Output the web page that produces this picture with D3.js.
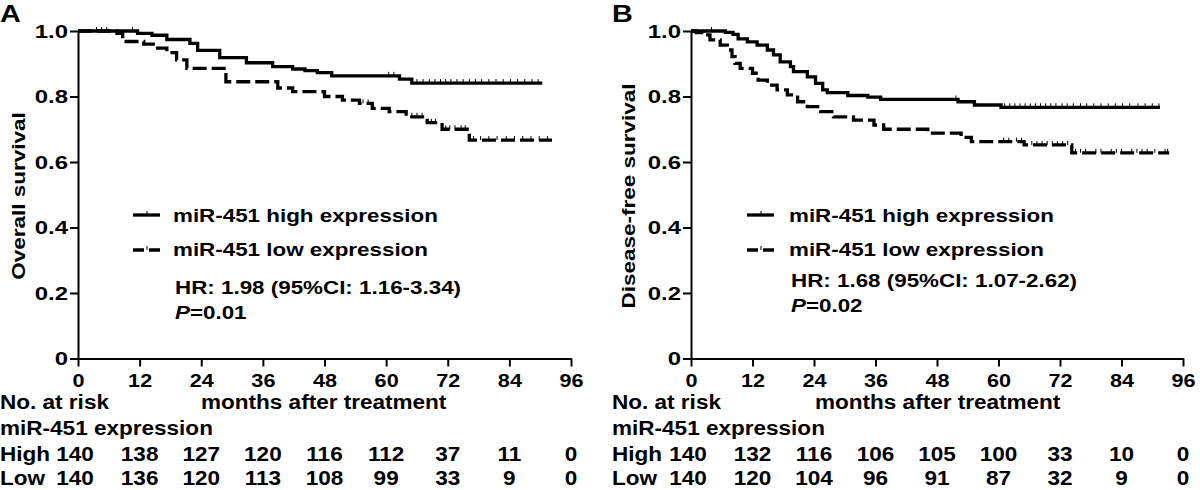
<!DOCTYPE html>
<html><head><meta charset="utf-8">
<script src="https://cdn.jsdelivr.net/npm/d3@7"></script>
<style>
body{margin:0;background:#fff}
svg{display:block}
text{font-family:"Liberation Sans",Arial,Helvetica,sans-serif;font-weight:bold;fill:#000}
</style>
</head><body>
<svg id="c" width="1200" height="490"></svg>
<script>
// ---------- data ----------
const monthTicks = [0, 12, 24, 36, 48, 60, 72, 84, 96];
const survTicks = [0, 0.2, 0.4, 0.6, 0.8, 1.0];
const groupLabels = ["miR-451 high expression", "miR-451 low expression"];

// Panel A: overall survival (step points: month, survival)
const osHighTimes = [0, 11.6, 14.4, 17.3, 21.8, 23.3, 27.6, 32.8, 37.9, 41.8, 44.2, 46.6, 49.4, 62.6, 65.0, 90.4];
const osHighSurv  = [1.0, 0.993, 0.987, 0.974, 0.962, 0.941, 0.919, 0.903, 0.891, 0.884, 0.879, 0.873, 0.863, 0.853, 0.841, 0.841];
const osLowTimes  = [0, 7.6, 8.7, 12.8, 15.0, 17.3, 19.2, 21.2, 28.8, 38.9, 41.8, 48.0, 51.5, 54.8, 57.3, 60.6, 63.9, 68.0, 70.9, 76.2, 92.3];
const osLowSurv   = [1.0, 0.993, 0.968, 0.960, 0.948, 0.934, 0.912, 0.886, 0.845, 0.826, 0.815, 0.800, 0.789, 0.779, 0.764, 0.754, 0.738, 0.720, 0.700, 0.667, 0.667];
const osHighCensor = [3.6, 4.6, 5.6, 10.6, 60.5, 61.5, 66, 67.2, 68.4, 69.5, 70.6, 71.6, 72.6, 73.8, 75, 76.2, 77.4, 78.6, 80, 81.4, 82.8, 84.2, 85.6, 87, 88.4, 89.6];
const osLowCensor  = [55.5, 56.5, 65, 66, 67, 68.8, 69.6, 71.6, 72.4, 73.4, 74.6, 75.4, 77, 78.4, 80, 81.6, 83.4, 85, 86.6, 88.2, 89.8, 91.4];
const osHR = "HR: 1.98 (95%CI: 1.16-3.34)";
const osP = "=0.01";
const osRiskHigh = [140, 138, 127, 120, 116, 112, 37, 11, 0];
const osRiskLow  = [140, 136, 120, 113, 108, 99, 33, 9, 0];

// Panel B: disease-free survival
const dfsHighTimes = [0, 6.7, 8.2, 9.2, 11.0, 12.9, 14.9, 16.1, 17.4, 19.4, 20.0, 22.7, 24.3, 25.7, 26.6, 30.6, 34.5, 37.0, 52.1, 55.3, 60.5, 91.5];
const dfsHighSurv  = [1.0, 0.996, 0.990, 0.976, 0.967, 0.957, 0.942, 0.927, 0.906, 0.891, 0.876, 0.860, 0.840, 0.820, 0.812, 0.803, 0.798, 0.791, 0.784, 0.774, 0.767, 0.767];
const dfsLowTimes  = [0, 1.0, 2.4, 3.7, 5.7, 7.1, 8.0, 8.6, 9.6, 12.0, 13.1, 14.9, 16.8, 18.8, 20.8, 22.7, 25.3, 27.8, 31.7, 35.7, 37.6, 46.2, 52.7, 54.7, 65.0, 74.3, 93.3];
const dfsLowSurv   = [1.0, 0.995, 0.988, 0.973, 0.957, 0.942, 0.922, 0.901, 0.886, 0.871, 0.850, 0.835, 0.820, 0.805, 0.784, 0.769, 0.754, 0.738, 0.728, 0.713, 0.700, 0.688, 0.675, 0.662, 0.652, 0.628, 0.628];
const dfsHighCensor = [4.0, 51.7, 61.2, 62.2, 63.2, 64.2, 65.2, 66.2, 67.2, 68.2, 69.2, 70.2, 71.2, 72.4, 73.4, 74.6, 76, 77.2, 78.6, 80, 81.4, 82.8, 84.2, 85.6, 87.2, 88.6, 90, 91.3];
const dfsLowCensor  = [61, 62, 63.5, 64.5, 66.5, 67.5, 68.5, 69.5, 70.5, 71.5, 72.5, 73.5, 75, 76, 77, 79, 80, 82, 83, 84, 86, 87, 88, 89, 90.5, 92.5, 93];
const dfsHR = "HR: 1.68 (95%CI: 1.07-2.62)";
const dfsP = "=0.02";
const dfsRiskHigh = [140, 132, 116, 106, 105, 100, 33, 10, 0];
const dfsRiskLow  = [140, 120, 104, 96, 91, 87, 32, 9, 0];

// ---------- drawing ----------
const svg = d3.select("#c");

function label(g, x, y, str, size, anchor, rot, sx) {
  const s = sx || 1.2;
  const t = g.append("text")
    .attr("transform", `translate(${x},${y})` + (rot ? ` rotate(${rot})` : "") + ` scale(${s},1)`)
    .attr("text-anchor", anchor || "start")
    .style("font-size", size + "px");
  if (str !== null) t.text(str);
  return t;
}

function panel(cfg) {
  const g = svg.append("g");
  const x = d3.scaleLinear().domain([0, 96]).range([cfg.x0, cfg.x1]);
  const y = d3.scaleLinear().domain([0, 1]).range([358.5, 31]);

  // axes
  const ya = g.append("g").attr("transform", `translate(${cfg.x0},0)`)
    .call(d3.axisLeft(y).tickValues(survTicks).tickSize(8).tickSizeOuter(0)
      .tickFormat(d => d === 0 ? "0" : d3.format(".1f")(d)));
  const xa = g.append("g").attr("transform", `translate(0,${y(0)})`)
    .call(d3.axisBottom(x).tickValues(monthTicks).tickSize(8).tickSizeOuter(0));
  [ya, xa].forEach(a => {
    a.select(".domain").attr("stroke", "#000").attr("stroke-width", 2);
    a.selectAll(".tick line").attr("stroke", "#000").attr("stroke-width", 2);
    a.selectAll("text").attr("fill", "#000").style("font-size", "18px")
      .style("font-family", '"Liberation Sans",Arial,sans-serif').style("font-weight", "bold");
  });
  ya.selectAll(".tick text").attr("x", 0).attr("dy", "0.36em")
    .attr("transform", "translate(-10,0) scale(1.33,1)");
  xa.selectAll(".tick text").attr("y", 0).attr("dy", 0)
    .attr("transform", "translate(0,28.5) scale(1.2,1)");

  // curves
  const line = d3.line().x(d => x(d[0])).y(d => y(d[1])).curve(d3.curveStepAfter);
  const curves = [
    { t: cfg.highT, s: cfg.highS, c: cfg.highC, dash: null },
    { t: cfg.lowT, s: cfg.lowS, c: cfg.lowC, dash: "14,5" }
  ];
  curves.forEach(cv => {
    const pts = cv.t.map((t, i) => [t, cv.s[i]]);
    g.append("path").datum(pts).attr("d", line)
      .attr("fill", "none").attr("stroke", "#000").attr("stroke-width", 3.3)
      .attr("stroke-dasharray", cv.dash);
    const survAt = tm => { let v = 1; cv.t.forEach((t, i) => { if (t <= tm) v = cv.s[i]; }); return v; };
    g.selectAll(null).data(cv.c).enter().append("line")
      .attr("x1", d => x(d)).attr("x2", d => x(d))
      .attr("y1", d => y(survAt(d)) - 4).attr("y2", d => y(survAt(d)))
      .attr("stroke", "#000").attr("stroke-width", 1);
  });

  // panel letter & y title
  label(g, cfg.letterX, 22, cfg.letter, 24, "start");
  label(g, cfg.titleX, 196, cfg.title, 18, "middle", -90, 1.25);

  // legend
  const lg = cfg.legend;
  const LS = 17.5, LX = 1.28;
  g.append("line").attr("x1", lg.lx).attr("x2", lg.lx + 27).attr("y1", 215).attr("y2", 215)
    .attr("stroke", "#000").attr("stroke-width", 3.3);
  g.append("line").attr("x1", lg.lx + 14).attr("x2", lg.lx + 14).attr("y1", 211).attr("y2", 215)
    .attr("stroke", "#000").attr("stroke-width", 1);
  g.append("line").attr("x1", lg.lx).attr("x2", lg.lx + 27).attr("y1", 250).attr("y2", 250)
    .attr("stroke", "#000").attr("stroke-width", 3.3).attr("stroke-dasharray", "11,5");
  g.append("line").attr("x1", lg.lx + 14).attr("x2", lg.lx + 14).attr("y1", 246).attr("y2", 250)
    .attr("stroke", "#000").attr("stroke-width", 1);
  label(g, lg.tx, 222, groupLabels[0], LS, "start", 0, LX);
  label(g, lg.tx, 256, groupLabels[1], LS, "start", 0, LX);
  label(g, lg.hx, lg.hy, cfg.hr, LS, "start", 0, LX);
  const pt = label(g, lg.hx, lg.hy + 25, null, LS, "start", 0, LX);
  pt.append("tspan").style("font-style", "italic").text("P");
  pt.append("tspan").text(cfg.p);

  // axis title and number at risk table
  const TS = 20.5, TX = 1.1;
  label(g, cfg.axisTitleX, 409, "months after treatment", TS, "start", 0, TX);
  label(g, cfg.tableX, 409, "No. at risk", TS, "start", 0, TX);
  label(g, cfg.tableX, 435, "miR-451 expression", TS, "start", 0, TX);
  label(g, cfg.tableX, 461, "High", TS, "start", 0, TX);
  label(g, cfg.tableX, 485, "Low", TS, "start", 0, TX);
  [[cfg.riskHigh, 461], [cfg.riskLow, 485]].forEach(([vals, yy]) => {
    vals.forEach((v, i) => label(g, x(monthTicks[i]) - (i === 0 ? 3 : 0), yy, String(v), TS, "middle", 0, TX));
  });
}

panel({
  x0: 78, x1: 571, letter: "A", letterX: 0, title: "Overall survival", titleX: 25,
  highT: osHighTimes, highS: osHighSurv, highC: osHighCensor,
  lowT: osLowTimes, lowS: osLowSurv, lowC: osLowCensor,
  legend: { lx: 133, tx: 173, hx: 175, hy: 294 },
  hr: osHR, p: osP, axisTitleX: 201, tableX: 0,
  riskHigh: osRiskHigh, riskLow: osRiskLow
});
panel({
  x0: 691, x1: 1183, letter: "B", letterX: 612, title: "Disease-free survival", titleX: 635,
  highT: dfsHighTimes, highS: dfsHighSurv, highC: dfsHighCensor,
  lowT: dfsLowTimes, lowS: dfsLowSurv, lowC: dfsLowCensor,
  legend: { lx: 747, tx: 789, hx: 791, hy: 287 },
  hr: dfsHR, p: dfsP, axisTitleX: 815, tableX: 612,
  riskHigh: dfsRiskHigh, riskLow: dfsRiskLow
});
</script>
</body></html>
